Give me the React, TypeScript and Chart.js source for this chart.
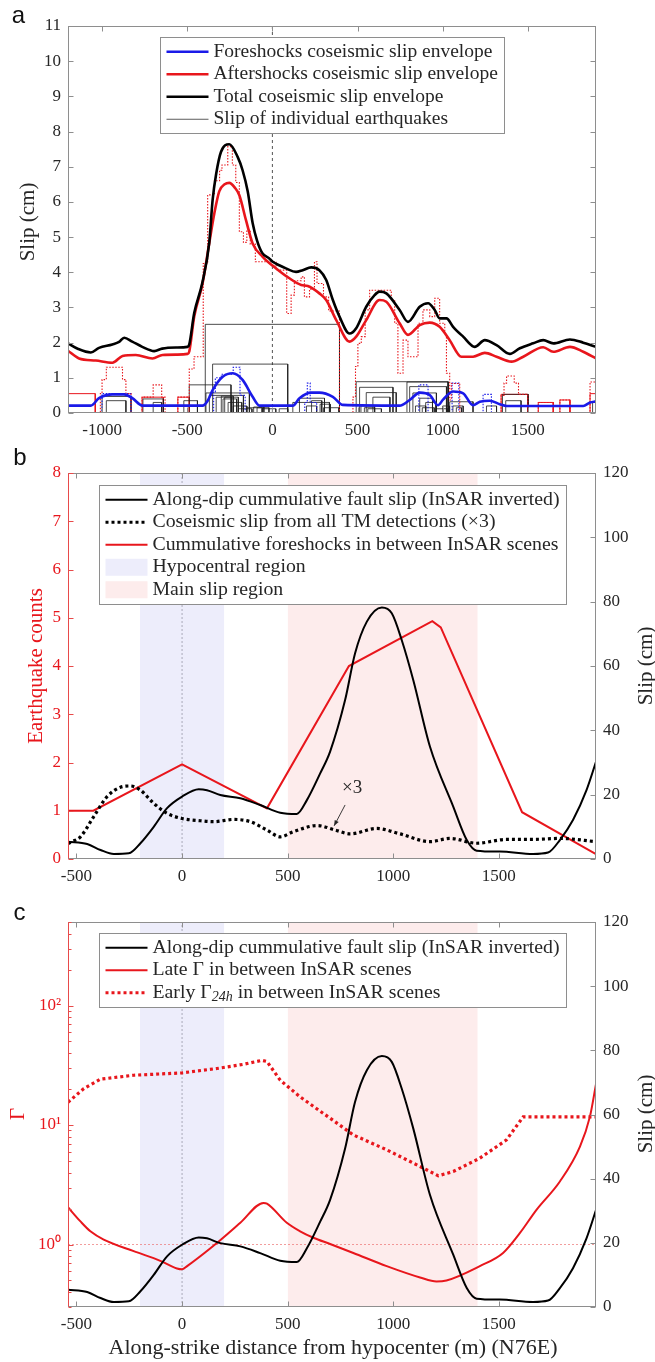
import { useEffect, useRef } from 'react';
import { Chart, registerables } from 'chart.js';

Chart.register(...registerables);

const SERIF = '"Liberation Serif", "Times New Roman", Times, serif';
const SANS = '"Liberation Sans", Arial, Helvetica, sans-serif';
const INK = '#262626';
const RED = '#e8161c';
const BLUE = '#1a1ae8';
const FRAME = '#8e8e8e';
const RED_AXIS = '#e84a4a';
const HYPO_FILL = '#ededfb';
const MAIN_FILL = '#fdecec';

Chart.defaults.font.family = SERIF;
Chart.defaults.color = INK;

// ---------------- panel a : coseismic slip envelopes ----------------
const aTicksX = [-1000, -500, 0, 500, 1000, 1500];
const aTicksY = [0, 1, 2, 3, 4, 5, 6, 7, 8, 9, 10, 11];

const totalX = [-1200, -1140, -1066, -1018, -940, -900, -870, -823, -764, -694, -647, -566, -498, -488, -459, -412, -371, -351, -330, -302, -253, -204, -175, -145, -116, -90, -60, -20, 2, 40, 80, 139, 178, 228, 276, 316, 355, 394, 453, 492, 551, 600, 629, 669, 747, 796, 865, 914, 953, 982, 1022, 1061, 1120, 1188, 1247, 1316, 1394, 1453, 1531, 1590, 1649, 1747, 1825, 1900];
const totalSlip = [1.98, 1.82, 1.72, 1.85, 1.95, 2.02, 2.14, 2.03, 1.88, 1.76, 1.83, 1.86, 1.88, 1.95, 2.84, 3.69, 4.83, 6.05, 6.8, 7.42, 7.64, 7.28, 6.9, 6.3, 5.4, 4.9, 4.55, 4.4, 4.3, 4.2, 4.11, 4.01, 4.06, 4.14, 4.06, 3.78, 3.21, 2.74, 2.26, 2.41, 3.02, 3.35, 3.45, 3.4, 2.93, 2.59, 3.02, 3.12, 2.93, 2.69, 2.69, 2.45, 2.17, 1.88, 2.07, 1.93, 1.68, 1.84, 1.98, 2.07, 1.98, 2.09, 2.0, 1.88];

const afterX = [-1200, -1135, -1037, -939, -880, -802, -704, -645, -560, -498, -488, -459, -410, -371, -341, -312, -280, -253, -220, -194, -155, -116, -57, 22, 100, 169, 208, 276, 316, 375, 453, 492, 551, 629, 669, 747, 796, 865, 924, 982, 1041, 1110, 1178, 1247, 1316, 1404, 1473, 1590, 1649, 1747, 1825, 1900];
const afterSlip = [1.77, 1.55, 1.49, 1.43, 1.62, 1.65, 1.55, 1.65, 1.66, 1.68, 1.75, 2.74, 3.68, 4.82, 5.67, 6.3, 6.5, 6.54, 6.4, 6.19, 5.48, 4.82, 4.44, 4.11, 3.83, 3.64, 3.61, 3.4, 3.21, 2.64, 2.03, 2.17, 2.64, 3.21, 3.16, 2.55, 2.22, 2.5, 2.57, 2.45, 2.07, 1.6, 1.6, 1.71, 1.6, 1.46, 1.6, 1.87, 1.74, 1.88, 1.74, 1.55];

const foreX = [-1200, -1066, -1018, -939, -870, -822, -763, -410, -380, -351, -292, -233, -175, -116, -76, 120, 159, 228, 276, 355, 414, 747, 806, 865, 924, 972, 1002, 1061, 1120, 1178, 1218, 1276, 1335, 1375, 1825, 1865, 1900];
const foreSlip = [0.21, 0.21, 0.42, 0.53, 0.53, 0.42, 0.21, 0.21, 0.35, 0.65, 1.03, 1.13, 0.94, 0.46, 0.21, 0.21, 0.42, 0.58, 0.58, 0.46, 0.23, 0.21, 0.37, 0.58, 0.51, 0.22, 0.38, 0.61, 0.56, 0.22, 0.32, 0.35, 0.25, 0.2, 0.2, 0.3, 0.33];

// summed aftershock slip (staircase: level starts at each edge)
const afterEdges = [-1200, -1010, -1000, -975, -880, -860, -830, -765, -700, -650, -630, -555, -488, -460, -406, -380, -340, -310, -296, -262, -235, -215, -194, -170, -150, -130, -100, 22, 84, 110, 129, 169, 188, 218, 247, 262, 300, 330, 394, 473, 488, 502, 522, 545, 571, 698, 718, 737, 767, 796, 855, 884, 924, 953, 982, 1012, 1022, 1041, 1051, 1100, 1343, 1360, 1375, 1420, 1445, 1500, 1561, 1649, 1688, 1747, 1865, 1900];
const afterLevels = [0, 0.55, 0.95, 1.3, 0.95, 0.55, 0, 0.45, 0.8, 0.45, 0, 0.45, 1.25, 1.6, 4.25, 6.2, 6.6, 6.9, 7.05, 7.57, 7.05, 6.55, 5.15, 4.85, 5.2, 4.8, 4.3, 4.06, 2.83, 3.35, 3.76, 3.87, 3.3, 3.52, 4.3, 3.68, 3.3, 2.9, 0, 0.45, 1.32, 1.98, 2.17, 2.93, 3.49, 3.21, 2.55, 1.13, 2.07, 1.6, 2.55, 2.93, 2.74, 3.26, 2.55, 2.26, 1.13, 0.37, 0.84, 0, 0.5, 0.85, 1.05, 0.85, 0.53, 0, 0.3, 0, 0.37, 0, 0.88, 0.88];

// summed foreshock slip (staircase)
const foreEdges = [-1200, -1000, -830, -345, -335, -300, -230, -190, -160, 190, 205, 222, 260, 860, 914, 1055, 1095, 1237, 1286, 1900];
const foreLevels = [0, 0.55, 0, 0.6, 1.0, 1.1, 1.3, 0.5, 0, 0.3, 0.85, 0.3, 0, 0.8, 0, 0.85, 0, 0.53, 0, 0];

// individual earthquakes: boxcar slip [start, end, slip]
const quakeStart = [-394, -351, -488, -390, -370, -330, -300, -290, -520, -1000, -975, -760, -700, -110, -90, -60, 40, 120, 159, 200, 230, 280, 300, 492, 790, 512, 551, 590, 520, 806, 825, 865, 900, 1041, 1060, 1257, 1351, 1370, 1880, -280, -260, -230, -200, -150, 540, 560, 840, 880, 960, 1000, 1080];
const quakeEnd = [394, 90, -243, -135, -170, -200, -230, -210, -440, -830, -860, -640, -650, -50, -20, 20, 90, 335, 306, 260, 290, 340, 390, 1032, 1032, 708, 727, 690, 600, 1022, 963, 940, 960, 1178, 1120, 1316, 1502, 1460, 1900, -240, -180, -150, -120, -60, 600, 640, 900, 950, 1030, 1040, 1110];
const quakeSlip = [2.52, 1.39, 0.8, 0.57, 0.5, 0.45, 0.48, 0.4, 0.35, 0.47, 0.35, 0.4, 0.3, 0.17, 0.15, 0.12, 0.12, 0.3, 0.42, 0.2, 0.35, 0.25, 0.15, 0.89, 0.88, 0.73, 0.58, 0.45, 0.2, 0.75, 0.57, 0.42, 0.3, 0.32, 0.2, 0.2, 0.53, 0.35, 0.3, 0.45, 0.3, 0.2, 0.12, 0.15, 0.15, 0.12, 0.2, 0.15, 0.12, 0.2, 0.15];

// aftershock boxcars outlined in red
const redQuakeStart = [-1200, -765, -555, 1343, 1561, 1688, 1865];
const redQuakeEnd = [-1040, -640, -488, 1500, 1649, 1747, 1900];
const redQuakeSlip = [0.55, 0.45, 0.45, 0.53, 0.3, 0.37, 0.55];

// ---------------- panels b and c : shared along-strike axis ----------------
const bcTicksX = [-500, 0, 500, 1000, 1500];
const countTicks = [0, 1, 2, 3, 4, 5, 6, 7, 8];
const slipTicks = [0, 20, 40, 60, 80, 100, 120];
const gammaTicks = [0.3, 0.4, 0.5, 0.6, 0.7, 0.8, 0.9, 1, 2, 3, 4, 5, 6, 7, 8, 9, 10, 20, 30, 40, 50, 60, 70, 80, 90, 100, 200, 300, 400, 500];
const hypoRegion = [-200, 200];
const mainRegion = [500, 1400];

// InSAR along-dip cumulative fault slip (cm)
const slipX = [-540, -449, -386, -323, -252, -197, -134, -71, 0, 79, 118, 181, 276, 370, 465, 543, 591, 654, 701, 772, 819, 875, 946, 993, 1040, 1095, 1174, 1284, 1348, 1395, 1505, 1662, 1733, 1789, 1851, 1915, 1960];
const slipCm = [5.4, 4.66, 2.8, 1.55, 1.76, 4.9, 10.0, 15.8, 19.4, 21.7, 21.4, 19.9, 18.9, 16.8, 14.4, 14.0, 18.3, 26.6, 33.4, 49.4, 63.9, 73.8, 78.2, 76.4, 68.1, 55.6, 34.9, 16.3, 5.9, 2.6, 2.3, 1.55, 2.0, 5.9, 12.1, 21.4, 30.2];

// coseismic slip from TM detections, already multiplied by 3 (cm)
const tmX = [-540, -520, -481, -418, -355, -292, -244, -197, -134, -71, 0, 87, 149, 244, 323, 402, 465, 528, 640, 725, 796, 922, 1032, 1174, 1269, 1395, 1537, 1662, 1789, 1960];
const tmSlip = [4.8, 5.4, 6.9, 13.2, 19.4, 22.3, 22.7, 21.4, 17.3, 14.2, 12.6, 11.9, 11.6, 12.3, 11.6, 9.0, 6.9, 8.5, 10.4, 9.0, 7.8, 9.5, 7.8, 5.4, 6.4, 4.9, 6.1, 6.1, 6.4, 5.4];

// cumulative foreshock counts between InSAR scenes
const foreCountX = [-540, -420, 0, 402, 790, 1185, 1225, 1610, 1960];
const foreCount = [1, 1, 1.96, 1.05, 4.0, 4.93, 4.8, 0.97, 0.1];

// Gamma (late and early 24 h)
const gammaLateX = [-540, -481, -434, -371, -229, -103, -24, 0, 24, 165, 276, 386, 402, 496, 559, 622, 701, 811, 969, 1127, 1205, 1252, 1410, 1520, 1600, 1679, 1789, 1884, 1931, 1960];
const gammaLate = [2.05, 1.56, 1.29, 1.1, 0.88, 0.73, 0.63, 0.62, 0.66, 1.03, 1.52, 2.23, 2.2, 1.52, 1.29, 1.14, 1.01, 0.85, 0.66, 0.53, 0.49, 0.5, 0.66, 0.85, 1.25, 1.96, 3.37, 6.6, 11.7, 22];
const gammaEarlyX = [-540, -465, -386, -229, 0, 165, 291, 378, 402, 465, 559, 701, 811, 969, 1127, 1213, 1284, 1410, 1536, 1615, 1960];
const gammaEarly = [15.5, 20.2, 24.2, 26.1, 27.3, 29.7, 32.2, 34.8, 34, 23.7, 17.2, 11.4, 8.26, 6.2, 4.5, 3.76, 4.08, 5.28, 7.5, 11.7, 11.7];

// "x3" call-out on the TM curve: text anchor, arrow tail and tip (x, slip)
const noteAt = [805, 22.1];
const noteFrom = [772, 16.8];
const noteTo = [720, 10.3];

// ---------------- helpers ----------------
const pts = (xs: number[], ys: number[]) => xs.map((x, i) => ({ x, y: ys[i] }));

function boxes(start: number[], end: number[], slip: number[]) {
  const out: any[] = [];
  start.forEach((s, i) => {
    out.push({ x: s, y: 0 }, { x: s, y: slip[i] }, { x: end[i], y: slip[i] }, { x: end[i], y: 0 }, { x: end[i], y: null });
  });
  return out;
}

function curve(data: any[], color: string, width: number, extra: any = {}) {
  return {
    data,
    borderColor: color,
    backgroundColor: color,
    borderWidth: width,
    pointRadius: 0,
    fill: false,
    tension: 0.4,
    cubicInterpolationMode: 'monotone',
    ...extra,
  };
}

function plain(data: any[], color: string, width: number, extra: any = {}) {
  return { data, borderColor: color, borderWidth: width, pointRadius: 0, fill: false, tension: 0, ...extra };
}

function band(range: number[], top: number, color: string, axis = 'y') {
  return {
    data: [{ x: range[0], y: top }, { x: range[1], y: top }],
    yAxisID: axis,
    borderColor: 'rgba(0,0,0,0)',
    borderWidth: 0,
    backgroundColor: color,
    pointRadius: 0,
    fill: 'start',
    tension: 0,
  };
}

function xAxis(min: number, max: number, ticks: number[], size: number) {
  return {
    type: 'linear',
    min,
    max,
    grid: { display: false, drawTicks: false },
    border: { display: false },
    ticks: {
      color: INK,
      font: { family: SERIF, size: 17 },
      padding: 7,
      autoSkip: false,
      maxRotation: 0,
      callback: (v: number) => String(v),
    },
    afterBuildTicks: (s: any) => {
      s.ticks = ticks.map((value) => ({ value }));
    },
    afterFit: (s: any) => {
      s.height = size;
    },
  };
}

function yAxis(pos: string, min: number, max: number, ticks: number[], color: string, size: number, extra: any = {}) {
  return {
    type: 'linear',
    position: pos,
    min,
    max,
    grid: { display: false, drawTicks: false },
    border: { display: false },
    ticks: {
      color,
      font: { family: SERIF, size: 17 },
      padding: 7,
      autoSkip: false,
      callback: (v: number) => String(v),
    },
    afterBuildTicks: (s: any) => {
      s.ticks = ticks.map((value) => ({ value }));
    },
    afterFit: (s: any) => {
      s.width = size;
    },
    ...extra,
  };
}

const SUP = ['\u2070', '\u00b9', '\u00b2', '\u00b3'];
const isDecade = (v: number) => {
  const e = Math.log10(v);
  return Math.abs(e - Math.round(e)) < 1e-9;
};

// frame around the plot area with inward tick marks (top/bottom and left/right)
const framePlugin = {
  id: 'frame',
  afterDatasetsDraw(chart: any, _a: any, o: any) {
    const { ctx, chartArea: ca, scales } = chart;
    const L = Math.round(ca.left) + 0.5;
    const R = Math.round(ca.right) - 0.5;
    const T = Math.round(ca.top) + 0.5;
    const B = Math.round(ca.bottom) - 0.5;
    const len = 5;
    ctx.save();
    ctx.lineWidth = 1;
    ctx.setLineDash([]);
    const seg = (x1: number, y1: number, x2: number, y2: number, c: string) => {
      ctx.strokeStyle = c;
      ctx.beginPath();
      ctx.moveTo(x1, y1);
      ctx.lineTo(x2, y2);
      ctx.stroke();
    };
    const left = o.leftColor || FRAME;
    const right = o.rightColor || FRAME;
    seg(L - 0.5, T, R + 0.5, T, FRAME);
    seg(L - 0.5, B, R + 0.5, B, FRAME);
    seg(L, T, L, B, left);
    seg(R, T, R, B, right);
    for (const t of scales.x.ticks) {
      const p = Math.round(scales.x.getPixelForValue(t.value)) + 0.5;
      seg(p, B, p, B - len, FRAME);
      seg(p, T, p, T + len, FRAME);
    }
    const y = scales.y;
    for (const t of y.ticks) {
      const l = y.type === 'logarithmic' && !isDecade(t.value) ? 3 : len;
      const p = Math.round(y.getPixelForValue(t.value)) + 0.5;
      seg(L, p, L + l, p, left);
      if (o.mirror) seg(R, p, R - l, p, FRAME);
    }
    if (scales.y1) {
      for (const t of scales.y1.ticks) {
        const p = Math.round(scales.y1.getPixelForValue(t.value)) + 0.5;
        seg(R, p, R - len, p, right);
      }
    }
    ctx.restore();
  },
};

// boxed legend centred at the top of the plot area
const legendPlugin = {
  id: 'boxLegend',
  afterDraw(chart: any, _a: any, o: any) {
    if (!o || !o.items) return;
    const { ctx, chartArea: ca } = chart;
    const font = `${o.size}px ${SERIF}`;
    const subFont = `italic ${Math.round(o.size * 0.7)}px ${SERIF}`;
    ctx.save();
    const widthOf = (parts: any[]) =>
      parts.reduce((w: number, p: any) => {
        ctx.font = p.sub ? subFont : font;
        return w + ctx.measureText(p.t).width;
      }, 0);
    const textW = Math.max(...o.items.map((it: any) => widthOf(it.parts)));
    const sample = 42;
    const padL = 6;
    const gap = 5;
    const padR = 7;
    const rowH = 22.5;
    const w = Math.round(padL + sample + gap + textW + padR);
    const h = Math.round(o.items.length * rowH + 6);
    const x0 = Math.round((ca.left + ca.right) / 2 - w / 2) + 0.5;
    const y0 = Math.round(ca.top + o.offset) + 0.5;
    ctx.fillStyle = '#ffffff';
    ctx.fillRect(x0, y0, w, h);
    ctx.strokeStyle = FRAME;
    ctx.lineWidth = 1;
    ctx.strokeRect(x0, y0, w, h);
    o.items.forEach((it: any, i: number) => {
      const cy = y0 + 3 + rowH * (i + 0.5);
      const sx = x0 + padL;
      if (it.kind === 'box') {
        ctx.fillStyle = it.color;
        ctx.fillRect(sx, cy - 8.5, sample, 17);
      } else {
        ctx.strokeStyle = it.color;
        ctx.lineWidth = it.width;
        ctx.setLineDash(it.dash || []);
        ctx.beginPath();
        ctx.moveTo(sx, cy);
        ctx.lineTo(sx + sample, cy);
        ctx.stroke();
        ctx.setLineDash([]);
      }
      let tx = sx + sample + gap;
      ctx.fillStyle = INK;
      ctx.textBaseline = 'middle';
      ctx.textAlign = 'left';
      it.parts.forEach((p: any) => {
        ctx.font = p.sub ? subFont : font;
        ctx.fillText(p.t, tx, p.sub ? cy + 5 : cy);
        tx += ctx.measureText(p.t).width;
      });
    });
    ctx.restore();
  },
};

// panel letters and axis titles
const titlePlugin = {
  id: 'titles',
  afterDraw(chart: any, _a: any, o: any) {
    if (!o || !o.items) return;
    const ctx = chart.ctx;
    for (const l of o.items) {
      ctx.save();
      ctx.translate(l.x, l.y);
      if (l.rot) ctx.rotate(l.rot);
      ctx.font = l.font;
      ctx.fillStyle = l.color;
      ctx.textAlign = 'center';
      ctx.textBaseline = 'middle';
      ctx.fillText(l.text, 0, 0);
      ctx.restore();
    }
  },
};

// text call-out with an arrow, placed in data coordinates
const notePlugin = {
  id: 'note',
  afterDatasetsDraw(chart: any, _a: any, o: any) {
    if (!o || !o.text) return;
    const sx = chart.scales.x;
    const sy = chart.scales[o.axis];
    const ctx = chart.ctx;
    ctx.save();
    ctx.font = `${o.size}px ${SERIF}`;
    ctx.fillStyle = INK;
    ctx.textAlign = 'center';
    ctx.textBaseline = 'middle';
    ctx.fillText(o.text, sx.getPixelForValue(o.at[0]), sy.getPixelForValue(o.at[1]));
    const x1 = sx.getPixelForValue(o.from[0]);
    const y1 = sy.getPixelForValue(o.from[1]);
    const x2 = sx.getPixelForValue(o.to[0]);
    const y2 = sy.getPixelForValue(o.to[1]);
    ctx.strokeStyle = INK;
    ctx.lineWidth = 0.9;
    ctx.beginPath();
    ctx.moveTo(x1, y1);
    ctx.lineTo(x2, y2);
    ctx.stroke();
    const ang = Math.atan2(y2 - y1, x2 - x1);
    const hl = 6;
    ctx.fillStyle = INK;
    ctx.beginPath();
    ctx.moveTo(x2, y2);
    ctx.lineTo(x2 - hl * Math.cos(ang - 0.38), y2 - hl * Math.sin(ang - 0.38));
    ctx.lineTo(x2 - hl * Math.cos(ang + 0.38), y2 - hl * Math.sin(ang + 0.38));
    ctx.closePath();
    ctx.fill();
    ctx.restore();
  },
};

const PLUGINS = [framePlugin, legendPlugin, titlePlugin, notePlugin];
const TITLE_FONT = `21px ${SERIF}`;
const LETTER_FONT = `24px ${SANS}`;
const UP = -Math.PI / 2;

function baseOptions(padding: any, scales: any, plugins: any) {
  return {
    animation: false,
    responsive: false,
    devicePixelRatio: 1,
    events: [],
    layout: { padding },
    scales,
    plugins: {
      legend: { display: false },
      tooltip: { enabled: false },
      ...plugins,
    },
  };
}

function makeA(): any {
  return {
    type: 'line',
    data: {
      datasets: [
        curve(pts(totalX, totalSlip), '#000000', 2.6),
        curve(pts(afterX, afterSlip), RED, 2.6),
        curve(pts(foreX, foreSlip), BLUE, 2.6),
        plain(pts(afterEdges, afterLevels), RED, 1.1, { stepped: true, borderDash: [1.5, 1.5] }),
        plain(pts(foreEdges, foreLevels), BLUE, 1.1, { stepped: true, borderDash: [1.5, 1.5] }),
        plain(boxes(quakeStart, quakeEnd, quakeSlip), '#1e1e1e', 0.8, { spanGaps: false }),
        plain(boxes(redQuakeStart, redQuakeEnd, redQuakeSlip), RED, 1, { spanGaps: false }),
        plain([{ x: 0, y: 0 }, { x: 0, y: 11 }], '#555555', 1, { borderDash: [3, 3] }),
      ],
    },
    options: baseOptions(
      { left: 0, right: 59, top: 26, bottom: 0 },
      {
        x: xAxis(-1200, 1900, aTicksX, 32),
        y: yAxis('left', 0, 11, aTicksY, INK, 68),
      },
      {
        frame: { mirror: true },
        boxLegend: {
          size: 19.5,
          offset: 11,
          items: [
            { parts: [{ t: 'Foreshocks coseismic slip envelope' }], kind: 'line', color: BLUE, width: 2.6 },
            { parts: [{ t: 'Aftershocks coseismic slip envelope' }], kind: 'line', color: RED, width: 2.6 },
            { parts: [{ t: 'Total coseismic slip envelope' }], kind: 'line', color: '#000000', width: 2.6 },
            { parts: [{ t: 'Slip of individual earthquakes' }], kind: 'line', color: '#333333', width: 0.8 },
          ],
        },
        titles: {
          items: [
            { text: 'a', x: 18.5, y: 16, font: LETTER_FONT, color: '#111111' },
            { text: 'Slip (cm)', x: 28, y: 222, rot: UP, font: TITLE_FONT, color: INK },
          ],
        },
      }
    ),
  };
}

function makeB(): any {
  return {
    type: 'line',
    data: {
      datasets: [
        curve(pts(slipX, slipCm), '#000000', 2, { yAxisID: 'y1' }),
        curve(pts(tmX, tmSlip), '#000000', 3.2, { yAxisID: 'y1', borderDash: [3, 3] }),
        plain(pts(foreCountX, foreCount), RED, 2, { yAxisID: 'y' }),
        plain([{ x: 0, y: 0 }, { x: 0, y: 8 }], '#9a9aa8', 0.8, { yAxisID: 'y', borderDash: [2, 2] }),
        band(hypoRegion, 8, HYPO_FILL),
        band(mainRegion, 8, MAIN_FILL),
      ],
    },
    options: baseOptions(
      { left: 0, right: 0, top: 28, bottom: 0 },
      {
        x: xAxis(-540, 1960, bcTicksX, 31),
        y: yAxis('left', 0, 8, countTicks, RED, 68),
        y1: yAxis('right', 0, 120, slipTicks, INK, 59),
      },
      {
        frame: { leftColor: RED_AXIS },
        boxLegend: {
          size: 19.8,
          offset: 12,
          items: [
            { parts: [{ t: 'Along-dip cummulative fault slip (InSAR inverted)' }], kind: 'line', color: '#000000', width: 2 },
            { parts: [{ t: 'Coseismic slip from all TM detections (\u00d73)' }], kind: 'line', color: '#000000', width: 3, dash: [3, 3] },
            { parts: [{ t: 'Cummulative foreshocks in between InSAR scenes' }], kind: 'line', color: RED, width: 2 },
            { parts: [{ t: 'Hypocentral region' }], kind: 'box', color: HYPO_FILL },
            { parts: [{ t: 'Main slip region' }], kind: 'box', color: MAIN_FILL },
          ],
        },
        note: { text: '\u00d73', size: 19, axis: 'y1', at: noteAt, from: noteFrom, to: noteTo },
        titles: {
          items: [
            { text: 'b', x: 20, y: 13, font: LETTER_FONT, color: '#111111' },
            { text: 'Earthquake counts', x: 36, y: 221, rot: UP, font: TITLE_FONT, color: RED },
            { text: 'Slip (cm)', x: 646, y: 221, rot: UP, font: TITLE_FONT, color: INK },
          ],
        },
      }
    ),
  };
}

function makeC(): any {
  const gammaAxis = yAxis('left', 0.3, 500, gammaTicks, RED, 68, { type: 'logarithmic' });
  gammaAxis.ticks.callback = (v: number) => (isDecade(v) ? '10' + SUP[Math.round(Math.log10(v))] : '');
  return {
    type: 'line',
    data: {
      datasets: [
        curve(pts(slipX, slipCm), '#000000', 2, { yAxisID: 'y1' }),
        curve(pts(gammaLateX, gammaLate), RED, 2, { yAxisID: 'y' }),
        plain(pts(gammaEarlyX, gammaEarly), RED, 3.2, { yAxisID: 'y', borderDash: [3, 3] }),
        plain([{ x: -540, y: 1 }, { x: 1960, y: 1 }], 'rgba(236,110,110,0.85)', 0.8, { yAxisID: 'y', borderDash: [2, 2] }),
        plain([{ x: 0, y: 0.3 }, { x: 0, y: 500 }], '#9a9aa8', 0.8, { yAxisID: 'y', borderDash: [2, 2] }),
        band(hypoRegion, 500, HYPO_FILL),
        band(mainRegion, 500, MAIN_FILL),
      ],
    },
    options: baseOptions(
      { left: 0, right: 0, top: 32, bottom: 0 },
      {
        x: xAxis(-540, 1960, bcTicksX, 55),
        y: gammaAxis,
        y1: yAxis('right', 0, 120, slipTicks, INK, 59),
      },
      {
        frame: { leftColor: RED_AXIS },
        boxLegend: {
          size: 19.8,
          offset: 11,
          items: [
            { parts: [{ t: 'Along-dip cummulative fault slip (InSAR inverted)' }], kind: 'line', color: '#000000', width: 2 },
            { parts: [{ t: 'Late \u0393 in between InSAR scenes' }], kind: 'line', color: RED, width: 2 },
            {
              parts: [{ t: 'Early \u0393' }, { t: '24h', sub: true }, { t: ' in between InSAR scenes' }],
              kind: 'line',
              color: RED,
              width: 3,
              dash: [3, 3],
            },
          ],
        },
        titles: {
          items: [
            { text: 'c', x: 19.5, y: 23, font: LETTER_FONT, color: '#111111' },
            { text: '\u0393', x: 18, y: 224, rot: UP, font: TITLE_FONT, color: RED },
            { text: 'Slip (cm)', x: 646, y: 224, rot: UP, font: TITLE_FONT, color: INK },
            { text: 'Along-strike distance from hypocenter (m) (N76E)', x: 333, y: 458, font: `22px ${SERIF}`, color: INK },
          ],
        },
      }
    ),
  };
}

function Panel({ top, height, make }: { top: number; height: number; make: () => any }) {
  const ref = useRef<HTMLCanvasElement | null>(null);
  useEffect(() => {
    if (!ref.current) return;
    const cfg = make();
    cfg.plugins = PLUGINS;
    const chart = new Chart(ref.current, cfg);
    return () => chart.destroy();
  }, [make]);
  return (
    <canvas
      ref={ref}
      width={655}
      height={height}
      style={{ position: 'absolute', left: 0, top, width: 655, height, display: 'block' }}
    />
  );
}

export default function App() {
  return (
    <div style={{ position: 'absolute', left: 0, top: 0, width: 655, height: 1362, background: '#ffffff', overflow: 'hidden' }}>
      <Panel top={0} height={445} make={makeA} />
      <Panel top={445} height={445} make={makeB} />
      <Panel top={890} height={472} make={makeC} />
    </div>
  );
}
